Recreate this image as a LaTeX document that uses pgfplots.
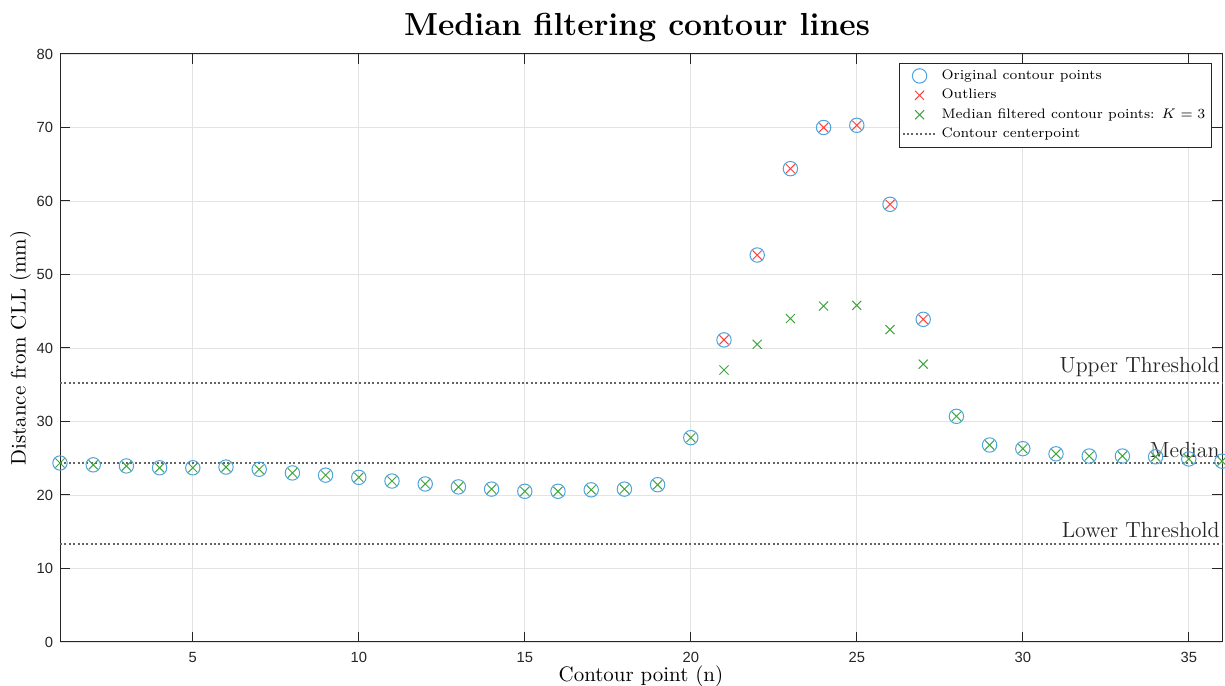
\documentclass[border=0pt]{standalone}
\usepackage{fontspec}
\usepackage{pgfplots}
\pgfplotsset{compat=1.18}
\newfontfamily\ticksans{Liberation Sans}

\definecolor{origblue}{RGB}{77,163,219}
\definecolor{outred}{RGB}{255,64,64}
\definecolor{medgreen}{RGB}{64,165,64}
\definecolor{axgray}{RGB}{38,38,38}
\definecolor{refgray}{RGB}{100,100,100}

\pgfplotstableread{
n  d
1  24.35
2  24.1
3  23.95
4  23.7
5  23.7
6  23.8
7  23.5
8  23.0
9  22.7
10 22.4
11 21.9
12 21.5
13 21.1
14 20.8
15 20.5
16 20.5
17 20.7
18 20.8
19 21.4
20 27.8
21 41.1
22 52.65
23 64.4
24 70.0
25 70.3
26 59.55
27 43.9
28 30.7
29 26.8
30 26.3
31 25.6
32 25.3
33 25.3
34 25.2
35 24.9
36 24.6
}\original

\pgfplotstableread{
n  d
21 41.1
22 52.65
23 64.4
24 70.0
25 70.3
26 59.55
27 43.9
}\outliers

\pgfplotstableread{
n  d
1  24.35
2  24.1
3  23.95
4  23.7
5  23.7
6  23.8
7  23.5
8  23.0
9  22.7
10 22.4
11 21.9
12 21.5
13 21.1
14 20.8
15 20.5
16 20.5
17 20.7
18 20.8
19 21.4
20 27.8
21 37.0
22 40.5
23 44.0
24 45.7
25 45.8
26 42.5
27 37.8
28 30.7
29 26.8
30 26.3
31 25.6
32 25.3
33 25.3
34 25.2
35 24.9
36 24.6
}\filtered

\begin{document}
\begin{tikzpicture}[x=1bp,y=1bp]
\begin{axis}[
  scale only axis,
  width=581bp, height=294bp,
  xmin=1, xmax=36, ymin=0, ymax=80,
  xtick={5,10,...,35},
  ytick={0,10,...,80},
  tick align=inside,
  major tick length=5bp,
  axis line style={axgray, line width=0.5bp},
  tick style={axgray, line width=0.5bp},
  grid=major,
  grid style={gray!22, line width=0.4bp},
  ticklabel style={font=\ticksans\fontsize{7.4}{8}\selectfont, text=axgray},
  /pgf/number format/assume math mode=true,
  xticklabel style={yshift=-1.5bp},
  title={\bfseries Median filtering contour lines},
  title style={font=\fontsize{16}{18}\selectfont, yshift=-3.5bp, xshift=-2bp},
  xlabel={Contour point (n)},
  ylabel={Distance from CLL (mm)},
  label style={font=\fontsize{10.5}{12}\selectfont},
  xlabel style={yshift=5bp},
  ylabel style={yshift=-4bp},
  legend style={at={(0.9915,0.985)}, anchor=north east,
    font=\fontsize{6.9}{8.5}\selectfont, draw=axgray, line width=0.4bp,
    inner sep=1.2bp, row sep=-0.6bp, cells={anchor=west}},
  legend cell align=left,
  clip=false,
]
\addplot[only marks, mark=o, mark size=3.6bp, origblue, mark options={line width=0.5bp}]
  table[x=n, y=d] {\original};
\addlegendentry{Original contour points}
\addplot[only marks, mark=x, mark size=3.2bp, outred, mark options={line width=0.5bp}]
  table[x=n, y=d] {\outliers};
\addlegendentry{Outliers}
\addplot[only marks, mark=x, mark size=3.2bp, medgreen, mark options={line width=0.5bp}]
  table[x=n, y=d] {\filtered};
\addlegendentry{Median filtered contour points: $K=3$}
\addplot[refgray, line width=1bp, dash pattern=on 1bp off 1.2bp] coordinates {(1,24.3) (36,24.3)};
\addlegendentry{Contour centerpoint}
\addplot[refgray, line width=1bp, dash pattern=on 1bp off 1.2bp, forget plot] coordinates {(1,35.3) (36,35.3)};
\addplot[refgray, line width=1bp, dash pattern=on 1bp off 1.2bp, forget plot] coordinates {(1,13.3) (36,13.3)};
\node[anchor=south east, font=\fontsize{11}{13}\selectfont, text=axgray, inner sep=1bp] at (axis cs:36,35.8) {Upper Threshold};
\node[anchor=south east, font=\fontsize{11}{13}\selectfont, text=axgray, inner sep=1bp] at (axis cs:36,24.8) {Median};
\node[anchor=south east, font=\fontsize{11}{13}\selectfont, text=axgray, inner sep=1bp] at (axis cs:36,13.8) {Lower Threshold};
\end{axis}
\pgfresetboundingbox
\path[use as bounding box] ([xshift=-30bp, yshift=-22bp]current axis.south west)
  rectangle ([xshift=1.5bp, yshift=27bp]current axis.north east);
\end{tikzpicture}
\end{document}
